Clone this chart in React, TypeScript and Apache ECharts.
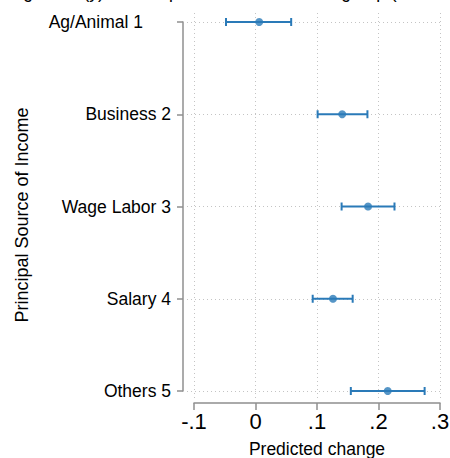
import React, { useEffect, useRef } from "react";
import * as echarts from "echarts";

const categories = ["Ag/Animal 1", "Business 2", "Wage Labor 3", "Salary 4", "Others 5"];
const estimates = [0.006, 0.141, 0.183, 0.126, 0.215];
const lowerCI = [-0.048, 0.101, 0.140, 0.093, 0.155];
const upperCI = [0.058, 0.182, 0.226, 0.158, 0.275];
const xTickValues = [-0.1, 0, 0.1, 0.2, 0.3];
const xTickLabels = ["-.1", "0", ".1", ".2", ".3"];
const titleText = "Change in Pr(y) with respect to base outcome group (95% CIs)";
const xTitle = "Predicted change";
const yTitle = "Principal Source of Income";

const BLUE = "#2a7ab8";
const AXIS = "#8f8f8f";
const GRID = "#c4c4c4";
const FONT = "'Liberation Sans', Arial, Helvetica, sans-serif";

export default function App() {
  const ref = useRef<HTMLDivElement>(null);
  useEffect(() => {
    document.body.style.margin = "0";
    if (!ref.current) return;
    const chart = echarts.init(ref.current, undefined, { renderer: "svg" });
    const pxPerUnit = (440 - 194) / 0.4;
    const barData = categories.map((_, i) => [lowerCI[i], upperCI[i], i + 1]);
    const ptData = categories.map((_, i) => [estimates[i], i + 1]);
    chart.setOption({
      animation: false,
      backgroundColor: "#ffffff",
      textStyle: { fontFamily: FONT },
      grid: [
        { left: 194, right: 10, top: 13, bottom: 59, outerBoundsMode: "none", containLabel: false },
        { left: 187, right: 10, top: 22, bottom: 67, outerBoundsMode: "none", containLabel: false },
      ],
      xAxis: [
        {
          gridIndex: 0,
          type: "value",
          min: -0.1,
          max: 0.3,
          interval: 0.1,
          position: "bottom",
          offset: 4,
          axisLine: { show: true, onZero: false, lineStyle: { color: AXIS, width: 1.5 } },
          axisTick: { show: true, length: 7, lineStyle: { color: AXIS, width: 1.5 } },
          axisLabel: {
            fontSize: 22,
            color: "#000",
            margin: 7,
            fontFamily: FONT,
            formatter: (v: number) => {
              const idx = xTickValues.findIndex((t) => Math.abs(t - v) < 1e-9);
              return idx >= 0 ? xTickLabels[idx] : "";
            },
          },
          splitLine: { show: true, lineStyle: { type: [1, 3], color: GRID, width: 1 } },
          name: xTitle,
          nameLocation: "middle",
          nameGap: 37,
          nameTextStyle: { fontSize: 17.5, color: "#000", fontFamily: FONT },
        },
        {
          gridIndex: 1,
          type: "value",
          min: -0.1 - 7 / pxPerUnit,
          max: 0.3,
          show: false,
          axisLine: { onZero: false },
        },
      ],
      yAxis: [
        { gridIndex: 0, type: "value", min: 0, max: 1, show: false, axisLine: { onZero: false } },
        {
          gridIndex: 1,
          type: "value",
          inverse: true,
          min: 1,
          max: 5,
          interval: 1,
          offset: 4,
          position: "left",
          axisLine: { show: true, onZero: false, lineStyle: { color: AXIS, width: 1.5 } },
          axisTick: { show: true, length: 6, lineStyle: { color: AXIS, width: 1.5 } },
          axisLabel: {
            fontSize: 17.5,
            color: "#000",
            margin: 12,
            fontFamily: FONT,
            formatter: (v: number) => {
              const i = Math.round(v) - 1;
              if (i === 0) return "{pad|" + categories[i] + "}";
              return categories[i] ?? "";
            },
            rich: {
              pad: { fontSize: 17.5, color: "#000", padding: [0, 28, 0, 0], fontFamily: FONT },
            },
          },
          splitLine: { show: true, lineStyle: { type: [1, 3], color: GRID, width: 1 } },
        },
      ],
      graphic: [
        {
          type: "text",
          x: 225,
          y: 1,
          style: {
            text: titleText,
            fontSize: 17.5,
            fontFamily: FONT,
            fill: "#000",
            align: "center",
            verticalAlign: "bottom",
          },
        },
        {
          type: "text",
          x: 22,
          y: 215,
          rotation: Math.PI / 2,
          style: {
            text: yTitle,
            fontSize: 18,
            fontFamily: FONT,
            fill: "#000",
            align: "center",
            verticalAlign: "middle",
          },
        },
      ],
      series: [
        {
          type: "custom",
          xAxisIndex: 1,
          yAxisIndex: 1,
          data: barData,
          encode: { x: [0, 1], y: 2 },
          renderItem: (params: any, api: any) => {
            const p1 = api.coord([api.value(0), api.value(2)]);
            const p2 = api.coord([api.value(1), api.value(2)]);
            const h = 4;
            const style = { stroke: BLUE, lineWidth: 2 };
            return {
              type: "group",
              children: [
                { type: "line", shape: { x1: p1[0], y1: p1[1], x2: p2[0], y2: p2[1] }, style },
                { type: "line", shape: { x1: p1[0], y1: p1[1] - h, x2: p1[0], y2: p1[1] + h }, style },
                { type: "line", shape: { x1: p2[0], y1: p2[1] - h, x2: p2[0], y2: p2[1] + h }, style },
              ],
            };
          },
        },
        {
          type: "scatter",
          xAxisIndex: 1,
          yAxisIndex: 1,
          data: ptData,
          symbol: "circle",
          symbolSize: 8,
          itemStyle: { color: BLUE },
        },
      ],
    });
    return () => chart.dispose();
  }, []);
  return <div ref={ref} style={{ width: 450, height: 458 }} />;
}
